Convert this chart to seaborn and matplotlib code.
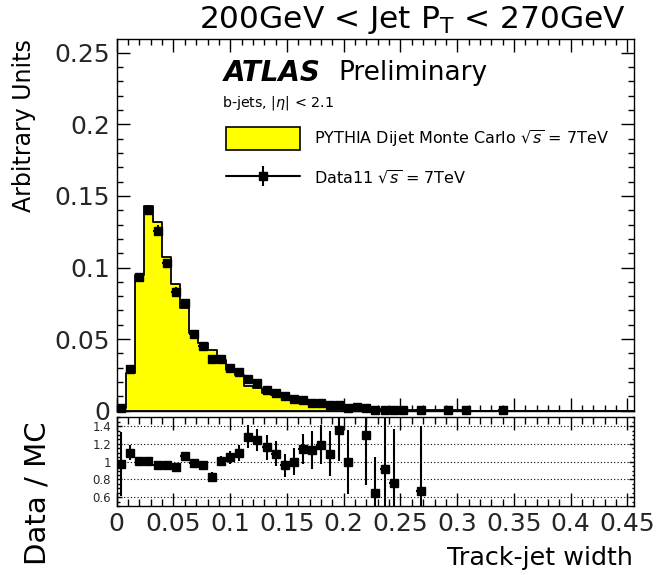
import numpy as np
import pandas as pd
import matplotlib
matplotlib.use("Agg")
import matplotlib.pyplot as plt
from matplotlib.patches import Patch
from matplotlib.lines import Line2D
from matplotlib.legend_handler import HandlerTuple
from matplotlib.ticker import MultipleLocator, FixedLocator, FixedFormatter
import seaborn as sns

nan = np.nan

# Binning of the track-jet width (57 bins of 0.008)
bin_width = 0.008
n_bins = 57

# PYTHIA dijet MC, normalised (arbitrary units)
mc = [0.0017, 0.0261, 0.0948, 0.1432, 0.1320, 0.1071, 0.0885, 0.0715, 0.0545, 0.0470,
      0.0424, 0.0355, 0.0282, 0.0247, 0.0172, 0.0157, 0.0125, 0.0112, 0.0107, 0.0080,
      0.0066, 0.0050, 0.0047, 0.0035, 0.0028, 0.0022, 0.0015, 0.0013, 0.0012, 0.0009,
      0.0008, 0.0003, 0.0004, 0.0005, 0.0003, 0.0002, 0.0002, 0.0002, 0.0001, 0.0001,
      0.0001, 0.0001, 0.0001, 0.0001, 0.0001, 0.0001, 0.0, 0.0, 0.0, 0.0,
      0.0, 0.0, 0.0, 0.0, 0.0, 0.0, 0.0]

# Data 2011, normalised, with statistical uncertainties
data = [0.0017, 0.0289, 0.0932, 0.1402, 0.1257, 0.1029, 0.0831, 0.0754, 0.0535, 0.0452,
        0.0359, 0.0359, 0.0296, 0.0272, 0.0221, 0.0196, 0.0145, 0.0122, 0.0103, 0.0080,
        0.0075, 0.0056, 0.0056, 0.0038, 0.0038, 0.0022, 0.0028, 0.0017, 0.0008, 0.0008,
        0.0006, 0.0006, nan, 0.0003, nan, nan, 0.0002, nan, 0.0002, nan,
        nan, nan, 0.0002, nan, nan, nan, nan, nan, nan, nan,
        nan, nan, nan, nan, nan, nan, nan]
data_err = [0.0006, 0.0022, 0.0028, 0.0036, 0.0040, 0.0032, 0.0031, 0.0029, 0.0025, 0.0021,
            0.0021, 0.0018, 0.0021, 0.0022, 0.0022, 0.0019, 0.0018, 0.0016, 0.0014, 0.0012,
            0.0011, 0.0011, 0.0010, 0.0009, 0.0010, 0.0008, 0.0008, 0.0007, 0.0005, 0.0007,
            0.0005, 0.0004, nan, 0.0004, nan, nan, 0.0002, nan, 0.0002, nan,
            nan, nan, 0.0002, nan, nan, nan, nan, nan, nan, nan,
            nan, nan, nan, nan, nan, nan, nan]

# Data / MC ratio (points outside 0.5-1.5 are not shown)
ratio = [0.97, 1.10, 1.01, 1.01, 0.96, 0.96, 0.94, 1.06, 0.98, 0.96,
         0.83, 1.01, 1.05, 1.10, 1.28, 1.245, 1.16, 1.09, 0.96, 1.00,
         1.145, 1.13, 1.19, 1.09, 1.36, 1.00, nan, 1.30, 0.65, 0.92,
         0.76, nan, nan, 0.67] + [nan] * 23
ratio_err = [0.36, 0.085, 0.03, 0.025, 0.03, 0.03, 0.035, 0.04, 0.045, 0.045,
             0.05, 0.05, 0.075, 0.09, 0.13, 0.12, 0.145, 0.14, 0.13, 0.15,
             0.17, 0.21, 0.22, 0.25, 0.35, 0.36, nan, 0.56, 0.40, 0.80,
             0.61, nan, nan, 0.73] + [nan] * 23

main_yticks = [0, 0.05, 0.1, 0.15, 0.2, 0.25]
main_ylabels = ["0", "0.05", "0.1", "0.15", "0.2", "0.25"]
ratio_yticks = [0.6, 0.8, 1.0, 1.2, 1.4]
ratio_ylabels = ["0.6", "0.8", "1", "1.2", "1.4"]
xticks = [0, 0.05, 0.1, 0.15, 0.2, 0.25, 0.3, 0.35, 0.4, 0.45]
xlabels = ["0", "0.05", "0.1", "0.15", "0.2", "0.25", "0.3", "0.35", "0.4", "0.45"]

edges = np.arange(n_bins + 1) * bin_width
centers = edges[:-1] + bin_width / 2
hist_df = pd.DataFrame({"width": centers, "mc": mc})
data = np.array(data)
data_err = np.array(data_err)
ratio = np.array(ratio)
ratio_err = np.array(ratio_err)

sns.set_theme(style="ticks")
plt.rcParams["font.family"] = ["DejaVu Sans"]
plt.rcParams["mathtext.fontset"] = "dejavusans"
plt.rcParams["axes.linewidth"] = 1.0

W, H = 659, 575
fig = plt.figure(figsize=(W / 100, H / 100), dpi=100)
fig.patch.set_facecolor("white")


def fx(px):
    return px / W


def fy(py):
    return 1 - py / H


ax = fig.add_axes([fx(116.7), fy(410.7), fx(634.3) - fx(116.7), fy(39.3) - fy(410.7)])
rax = fig.add_axes([fx(116.7), fy(506.0), fx(634.3) - fx(116.7), fy(417.3) - fy(506.0)])

yellow = "#ffff00"

# MC histogram
sns.histplot(data=hist_df, x="width", weights="mc", bins=edges.tolist(), element="step",
             fill=True, color=yellow, facecolor=yellow, edgecolor="black",
             linewidth=1.3, alpha=1, ax=ax, legend=False)

# Data points
sel = ~np.isnan(data)
ax.errorbar(centers[sel], data[sel], yerr=data_err[sel], xerr=bin_width / 2,
            fmt="s", color="black", ms=6, elinewidth=1.5, capsize=0,
            zorder=5, clip_on=False)

ax.set_xlim(0, n_bins * bin_width)
ax.set_ylim(0, 0.2594)
ax.set_xlabel("")
ax.set_ylabel("")
ax.xaxis.set_major_locator(MultipleLocator(0.05))
ax.xaxis.set_minor_locator(MultipleLocator(0.01))
ax.yaxis.set_major_locator(FixedLocator(main_yticks))
ax.yaxis.set_major_formatter(FixedFormatter(main_ylabels))
ax.yaxis.set_minor_locator(MultipleLocator(0.01))
ax.tick_params(which="both", direction="in", top=True, right=True, width=1.0,
               color="black", labelbottom=False)
ax.tick_params(which="major", length=9.5)
ax.tick_params(which="minor", length=4.5)
ax.tick_params(axis="y", labelsize=18, pad=5)

# Ratio panel
sel_r = ~np.isnan(ratio)
rax.errorbar(centers[sel_r], ratio[sel_r], yerr=ratio_err[sel_r], xerr=bin_width / 2,
             fmt="s", color="black", ms=6, elinewidth=1.5, capsize=0, zorder=5)
rax.set_xlim(0, n_bins * bin_width)
rax.set_ylim(0.5, 1.5)
rax.xaxis.set_major_locator(FixedLocator(xticks))
rax.xaxis.set_major_formatter(FixedFormatter(xlabels))
rax.xaxis.set_minor_locator(MultipleLocator(0.01))
rax.yaxis.set_major_locator(FixedLocator(ratio_yticks))
rax.yaxis.set_major_formatter(FixedFormatter(ratio_ylabels))
rax.yaxis.set_minor_locator(MultipleLocator(0.05))
rax.tick_params(which="both", direction="in", top=True, right=True, width=1.0,
                color="black")
rax.tick_params(axis="x", which="major", length=9.5, labelsize=18, pad=4)
rax.tick_params(axis="x", which="minor", length=5)
rax.tick_params(axis="y", which="major", length=3.5, labelsize=8.5, pad=4)
rax.tick_params(axis="y", which="minor", length=1.8)
for yv in ratio_yticks:
    rax.axhline(yv, color="black", linewidth=0.8, linestyle=(0, (1, 2)), zorder=1)

for a in (ax, rax):
    for s in a.spines.values():
        s.set_color("black")
        s.set_linewidth(1.0)

# Texts
fig.text(fx(626), fy(20), r"200GeV < Jet P$_\mathregular{T}$ < 270GeV", ha="right",
         va="center", fontsize=22.5, color="black")
fig.text(fx(224), fy(73), "ATLAS", ha="left", va="center", fontsize=20,
         fontweight="bold", fontstyle="italic", color="black")
fig.text(fx(338), fy(73), "Preliminary", ha="left", va="center", fontsize=19,
         color="black")
fig.text(fx(222), fy(103), r"b-jets, |$\eta$| < 2.1", ha="left", va="center",
         fontsize=10.3, color="black")
fig.text(fx(24), fy(126), "Arbitrary Units", rotation=90, ha="center", va="center",
         fontsize=17, color="black")
fig.text(fx(38), fy(493), "Data / MC", rotation=90, ha="center", va="center",
         fontsize=21, color="black")
fig.text(fx(633), fy(558), "Track-jet width", ha="right", va="center", fontsize=18.3,
         color="black")

# Legend
mc_handle = Patch(facecolor=yellow, edgecolor="black", linewidth=1.2)
data_handle = (Line2D([], [], color="black", lw=1.5, marker="s", ms=6),
               Line2D([], [], color="black", ls="none", marker="|", ms=15, mew=1.5))
fs_leg = 11.5
leg = ax.legend([mc_handle, data_handle],
                [r"PYTHIA Dijet Monte Carlo $\sqrt{s}$ = 7TeV", r"Data11 $\sqrt{s}$ = 7TeV"],
                handler_map={tuple: HandlerTuple(ndivide=1)},
                loc="upper left", bbox_to_anchor=(fx(226), fy(126.7)),
                bbox_transform=fig.transFigure, frameon=False, fontsize=fs_leg,
                borderpad=0, borderaxespad=0, handlelength=74 / (fs_leg / 0.72),
                handleheight=1.9, handletextpad=0.9,
                labelspacing=1.05)
for t in leg.get_texts():
    t.set_color("black")

fig.savefig("out.png", dpi=100, facecolor="white")
